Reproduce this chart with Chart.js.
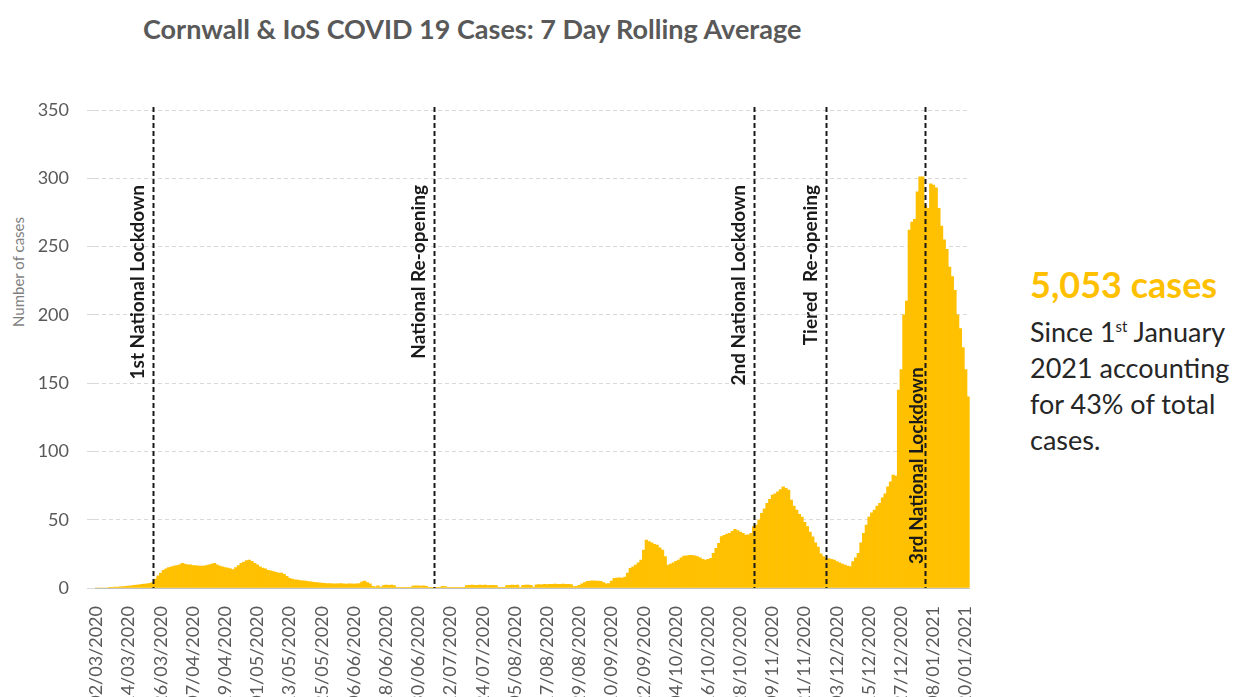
<!DOCTYPE html>
<html>
<head>
<meta charset="utf-8">
<script src="https://cdn.jsdelivr.net/npm/chart.js@4.4.1/dist/chart.umd.min.js"></script>
<style>
  html, body { margin: 0; padding: 0; background: #fff; overflow: hidden; width: 1237px; height: 697px; }
  #wrap { position: absolute; left: 0; top: 0; width: 1000px; height: 710px; }
  #title { position: absolute; left: 143px; top: 12px; font: bold 27px Lato, sans-serif; color: #595959; white-space: nowrap; }
  #ytitle { position: absolute; left: 18px; top: 272px; font: 15px Lato, sans-serif; color: #7f7f7f; white-space: nowrap;
            transform: translate(-50%, -50%) rotate(-90deg); }
  #note { position: absolute; left: 1030px; top: 260px; font: 27px Lato, sans-serif; color: #262626; line-height: 36px; white-space: nowrap; }
  #note .big { font: bold 36px Lato, sans-serif; color: #FFC000; display: block; line-height: 48px; }
  #note sup { font-size: 15px; }
</style>
</head>
<body>
<div id="title">Cornwall &amp; IoS COVID 19 Cases: 7 Day Rolling Average</div>
<div id="ytitle">Number of cases</div>
<div id="wrap"><canvas id="covid-chart"></canvas></div>
<div id="note"><span class="big">5,053 cases</span>Since 1<sup>st</sup> January<br>2021 accounting<br>for 43% of total<br>cases.</div>
<script>
// 7 day rolling average, one value per day from 02/03/2020
var rollingAvg = [
    0, 0, 0, 0, 0, 0.3, 0.4, 0.6, 0.7, 0.9,
    1.1, 1.3, 1.4, 1.6, 1.9, 2.1, 2.3, 2.6, 2.9, 3.1,
    3.4, 4, 6.5, 9, 11, 13, 14, 15, 15.5, 16,
    16.5, 17, 18, 17.5, 17, 17, 16.5, 16.5, 16, 16,
    16, 16.5, 17, 17.5, 18, 17, 16, 15.5, 15, 14.5,
    14, 13.5, 15, 16.5, 18, 19, 20, 20.5, 19.5, 18,
    17, 15.5, 14.5, 14, 13, 12.5, 12, 11.5, 11, 11,
    10, 8.5, 7, 6.5, 6, 5.8, 5.5, 5.2, 5, 4.7,
    4.5, 4.2, 4, 3.8, 3.6, 3.5, 3.3, 3.2, 3.1, 3,
    3, 3.2, 3, 2.9, 3.1, 3, 2.8, 3, 3.2, 4.5,
    5, 4, 3, 1.2, 0.8, 1.5, 0.6, 1.8, 2.2, 2,
    2.1, 1.8, 0.4, 0.3, 0.3, 0.2, 0.3, 0.4, 1.4, 1.5,
    1.6, 1.4, 1.5, 1.2, 0.3, 0.3, 0.4, 0.3, 0.5, 1.2,
    1, 0.3, 0.2, 0.3, 0.2, 0.3, 0.4, 0.3, 1.8, 2,
    2.1, 2, 1.9, 2.2, 2, 2.1, 1.8, 2, 1.9, 1.7,
    0.4, 0.3, 0.5, 1.8, 2, 2.1, 1.9, 2.2, 0.5, 2,
    2.1, 2.2, 2, 0.6, 2.3, 2.5, 2.4, 2.6, 2.5, 2.7,
    2.6, 2.8, 2.7, 2.7, 2.8, 2.6, 2.7, 2.5, 1, 1.2,
    2, 3, 4, 4.8, 5, 5.2, 5, 5.1, 4.8, 4,
    3, 3.2, 5, 7, 7.2, 7.5, 7.3, 8, 11, 14.4,
    15.5, 16.8, 18.5, 20.5, 27.8, 35, 34, 33, 32, 31.5,
    29.5, 27.8, 23, 16.8, 17.5, 18.5, 19.5, 20.5, 22, 23.4,
    23.5, 24, 24, 23.5, 23, 22, 21, 20.5, 21, 21.7,
    25.4, 29, 32.7, 37.6, 38.5, 39.5, 40, 41.5, 43, 42,
    41, 40, 38.8, 39, 40, 45, 46, 50, 54.7, 58,
    62, 65, 68, 69, 70.5, 72, 74, 73, 71.7, 64.4,
    60, 57, 54, 52, 48, 45, 41, 37.5, 33, 30,
    25, 23, 21.7, 21.5, 21, 20.5, 19.3, 18.5, 17.5, 16.8,
    16, 15.6, 19.3, 22, 25.4, 33, 40, 46, 52, 55,
    57, 60, 62, 66, 69, 74, 77.8, 82.7, 82, 145,
    160, 200, 210, 262, 268, 270, 290, 301, 301, 280,
    278, 296, 295, 293, 278, 265, 255, 248, 235, 228,
    218, 200, 190, 176, 160, 140
];

var tickLabels = [
    "02/03/2020", "14/03/2020", "26/03/2020", "07/04/2020", "19/04/2020", "01/05/2020", "13/05/2020",
    "25/05/2020", "06/06/2020", "18/06/2020", "30/06/2020", "12/07/2020", "24/07/2020", "05/08/2020",
    "17/08/2020", "29/08/2020", "10/09/2020", "22/09/2020", "04/10/2020", "16/10/2020", "28/10/2020",
    "09/11/2020", "21/11/2020", "03/12/2020", "15/12/2020", "27/12/2020", "08/01/2021", "20/01/2021"
];

var eventDates = ["23/03/2020", "06/07/2020", "02/11/2020", "29/11/2020", "05/01/2021"];
var eventNames = ["1st National Lockdown", "National Re-opening", "2nd National Lockdown", "Tiered  Re-opening", "3rd National Lockdown"];

// one category per day
var days = [];
var start = new Date(2020, 2, 2);
for (var i = 0; i < rollingAvg.length; i++) {
    var d = new Date(start.getFullYear(), start.getMonth(), start.getDate() + i);
    var dd = ('0' + d.getDate()).slice(-2);
    var mm = ('0' + (d.getMonth() + 1)).slice(-2);
    days.push(dd + '/' + mm + '/' + d.getFullYear());
}

var eventLines = {
    id: 'eventLines',
    afterDatasetsDraw: function (chart) {
        var ctx = chart.ctx;
        var xs = chart.scales.x;
        var area = chart.chartArea;
        eventDates.forEach(function (date, k) {
            var x = Math.round(xs.getPixelForValue(days.indexOf(date))) + 0.5;
            ctx.save();
            ctx.strokeStyle = '#1a1a1a';
            ctx.lineWidth = 2;
            ctx.setLineDash([5, 3]);
            ctx.beginPath();
            ctx.moveTo(x, area.top - 3);
            ctx.lineTo(x, area.bottom);
            ctx.stroke();
            ctx.setLineDash([]);
            ctx.fillStyle = '#1a1a1a';
            ctx.font = 'bold 19px Lato';
            ctx.textBaseline = 'middle';
            var last = k === eventDates.length - 1;
            if (last) {
                ctx.translate(x - 9, 564);
                ctx.rotate(-Math.PI / 2);
                ctx.textAlign = 'left';
            } else {
                ctx.translate(x - 16, 185);
                ctx.rotate(-Math.PI / 2);
                ctx.textAlign = 'right';
            }
            ctx.fillText(eventNames[k], 0, 0);
            ctx.restore();
        });
    }
};

var chart = new Chart(document.getElementById('covid-chart'), {
    type: 'bar',
    data: {
        labels: days,
        datasets: [{
            label: '7 Day Rolling Average',
            data: rollingAvg,
            backgroundColor: '#FFC000',
            borderWidth: 0,
            barPercentage: 1,
            categoryPercentage: 1
        }]
    },
    options: {
        responsive: true,
        maintainAspectRatio: false,
        animation: false,
        layout: { padding: { left: 0, right: 28, top: 110, bottom: 0 } },
        plugins: {
            legend: { display: false },
            tooltip: { enabled: false }
        },
        scales: {
            x: {
                afterFit: function (scale) { scale.height = 122; },
                grid: { display: false },
                border: { display: false },
                ticks: {
                    autoSkip: false,
                    minRotation: 90,
                    maxRotation: 90,
                    padding: 10,
                    color: '#595959',
                    font: { family: 'Lato', size: 18 },
                    callback: function (value) {
                        var lab = this.getLabelForValue(value);
                        return tickLabels.indexOf(lab) >= 0 ? lab : '';
                    }
                }
            },
            y: {
                min: 0,
                max: 350,
                afterFit: function (scale) { scale.width = 95; },
                ticks: {
                    stepSize: 50,
                    padding: 18,
                    color: '#595959',
                    font: { family: 'Lato', size: 18 }
                },
                grid: {
                    color: function (c) { return c.tick && c.tick.value === 0 ? '#bfbfbf' : '#d9d9d9'; },
                    tickColor: '#d9d9d9',
                    tickLength: 8,
                    lineWidth: 1
                },
                border: {
                    display: false,
                    dash: function (c) { return c.tick && c.tick.value === 0 ? [] : [4, 3]; }
                }
            }
        }
    },
    plugins: [eventLines]
});
</script>
</body>
</html>
